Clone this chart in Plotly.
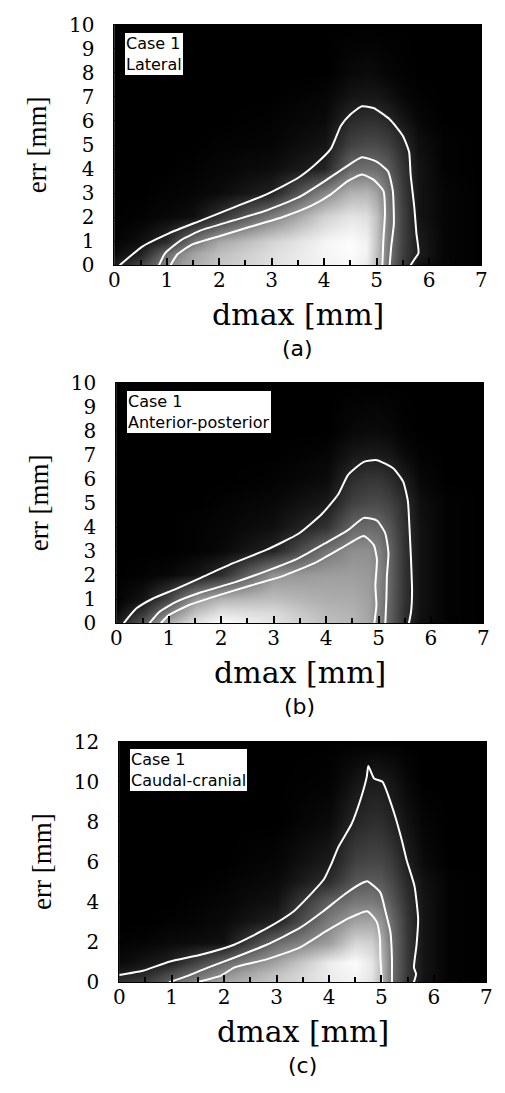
import plotly.graph_objects as go

# ---------------- data ----------------
X_GRID = [0, 0.5, 1, 1.5, 2, 3, 4, 4.5, 4.8, 5.0, 5.2, 5.5, 5.8, 6.3, 7]
Y_GRID_AB = [0, 0.5, 1, 2, 3, 4, 5, 6, 7, 8, 10]
Y_GRID_C = [0, 0.5, 1, 2, 3, 4, 5, 6, 8, 10, 12]

Z_A = [
    [0.11, 0.28, 0.52, 0.68, 0.78, 0.88, 0.95, 0.97, 0.92, 0.74, 0.46, 0.22, 0.07, 0.02, 0.0],
    [0.04, 0.13, 0.42, 0.64, 0.75, 0.87, 0.96, 0.99, 0.95, 0.76, 0.48, 0.25, 0.11, 0.02, 0.0],
    [0.01, 0.06, 0.17, 0.46, 0.66, 0.83, 0.96, 0.99, 0.95, 0.77, 0.49, 0.26, 0.11, 0.02, 0.0],
    [0.0, 0.01, 0.03, 0.06, 0.20, 0.50, 0.82, 0.90, 0.88, 0.76, 0.50, 0.26, 0.08, 0.02, 0.0],
    [0.0, 0.0, 0.01, 0.02, 0.04, 0.13, 0.53, 0.70, 0.71, 0.64, 0.46, 0.24, 0.08, 0.02, 0.0],
    [0.0, 0.0, 0.0, 0.01, 0.02, 0.05, 0.14, 0.42, 0.44, 0.43, 0.37, 0.21, 0.08, 0.01, 0.0],
    [0.0, 0.0, 0.0, 0.0, 0.01, 0.02, 0.08, 0.26, 0.29, 0.29, 0.26, 0.17, 0.06, 0.01, 0.0],
    [0.0, 0.0, 0.0, 0.0, 0.0, 0.01, 0.04, 0.17, 0.19, 0.19, 0.16, 0.09, 0.03, 0.0, 0.0],
    [0.0, 0.0, 0.0, 0.0, 0.0, 0.0, 0.02, 0.08, 0.09, 0.09, 0.07, 0.03, 0.01, 0.0, 0.0],
    [0.0, 0.0, 0.0, 0.0, 0.0, 0.0, 0.0, 0.03, 0.04, 0.035, 0.02, 0.01, 0.0, 0.0, 0.0],
    [0.0, 0.0, 0.0, 0.0, 0.0, 0.0, 0.0, 0.0, 0.0, 0.0, 0.0, 0.0, 0.0, 0.0, 0.0],
]
Z_B = [
    [0.10, 0.35, 0.70, 0.90, 1.00, 0.90, 0.75, 0.72, 0.66, 0.52, 0.38, 0.18, 0.06, 0.01, 0.0],
    [0.04, 0.20, 0.48, 0.75, 0.88, 0.85, 0.72, 0.70, 0.64, 0.52, 0.38, 0.19, 0.07, 0.01, 0.0],
    [0.01, 0.08, 0.28, 0.60, 0.72, 0.75, 0.68, 0.67, 0.63, 0.52, 0.39, 0.20, 0.07, 0.01, 0.0],
    [0.0, 0.01, 0.03, 0.08, 0.18, 0.58, 0.62, 0.62, 0.60, 0.53, 0.40, 0.20, 0.07, 0.01, 0.0],
    [0.0, 0.0, 0.0, 0.01, 0.03, 0.14, 0.46, 0.56, 0.56, 0.51, 0.39, 0.20, 0.07, 0.01, 0.0],
    [0.0, 0.0, 0.0, 0.01, 0.02, 0.06, 0.20, 0.40, 0.42, 0.41, 0.34, 0.19, 0.07, 0.01, 0.0],
    [0.0, 0.0, 0.0, 0.0, 0.01, 0.03, 0.10, 0.26, 0.29, 0.29, 0.26, 0.17, 0.06, 0.01, 0.0],
    [0.0, 0.0, 0.0, 0.0, 0.0, 0.01, 0.04, 0.18, 0.21, 0.21, 0.18, 0.11, 0.03, 0.0, 0.0],
    [0.0, 0.0, 0.0, 0.0, 0.0, 0.0, 0.02, 0.09, 0.105, 0.10, 0.09, 0.04, 0.01, 0.0, 0.0],
    [0.0, 0.0, 0.0, 0.0, 0.0, 0.0, 0.0, 0.03, 0.04, 0.04, 0.03, 0.01, 0.0, 0.0, 0.0],
    [0.0, 0.0, 0.0, 0.0, 0.0, 0.0, 0.0, 0.0, 0.0, 0.0, 0.0, 0.0, 0.0, 0.0, 0.0],
]
Z_C = [
    [0.20, 0.25, 0.40, 0.55, 0.65, 0.80, 0.92, 0.95, 0.89, 0.72, 0.42, 0.21, 0.07, 0.01, 0.0],
    [0.10, 0.15, 0.28, 0.42, 0.55, 0.75, 0.93, 0.97, 0.91, 0.73, 0.43, 0.22, 0.08, 0.01, 0.0],
    [0.04, 0.08, 0.13, 0.28, 0.41, 0.65, 0.93, 0.99, 0.91, 0.73, 0.43, 0.22, 0.08, 0.01, 0.0],
    [0.01, 0.02, 0.04, 0.05, 0.07, 0.42, 0.62, 0.84, 0.82, 0.68, 0.43, 0.22, 0.08, 0.01, 0.0],
    [0.0, 0.0, 0.01, 0.02, 0.04, 0.13, 0.50, 0.64, 0.65, 0.58, 0.41, 0.21, 0.08, 0.01, 0.0],
    [0.0, 0.0, 0.0, 0.01, 0.02, 0.07, 0.38, 0.47, 0.48, 0.45, 0.34, 0.19, 0.08, 0.01, 0.0],
    [0.0, 0.0, 0.0, 0.0, 0.01, 0.04, 0.18, 0.34, 0.36, 0.345, 0.28, 0.16, 0.07, 0.01, 0.0],
    [0.0, 0.0, 0.0, 0.0, 0.0, 0.02, 0.11, 0.26, 0.28, 0.275, 0.23, 0.12, 0.04, 0.0, 0.0],
    [0.0, 0.0, 0.0, 0.0, 0.0, 0.0, 0.04, 0.15, 0.18, 0.175, 0.14, 0.07, 0.02, 0.0, 0.0],
    [0.0, 0.0, 0.0, 0.0, 0.0, 0.0, 0.01, 0.08, 0.11, 0.105, 0.08, 0.03, 0.0, 0.0, 0.0],
    [0.0, 0.0, 0.0, 0.0, 0.0, 0.0, 0.0, 0.0, 0.0, 0.0, 0.0, 0.0, 0.0, 0.0, 0.0],
]

# contour lines (dmax, err)
A_OUTER_X = [0.1, 0.54, 1.04, 1.66, 2.28, 2.9, 3.5, 3.82, 4.13, 4.32, 4.5, 4.72, 4.94, 5.25, 5.5, 5.62, 5.65, 5.72, 5.76, 5.8, 5.72, 5.65]
A_OUTER_Y = [0.0, 0.79, 1.33, 1.87, 2.41, 2.95, 3.63, 4.17, 4.85, 5.8, 6.27, 6.61, 6.54, 6.07, 5.39, 4.72, 3.77, 2.41, 1.33, 0.51, 0.24, 0.0]
A_MID_X = [0.85, 0.97, 1.28, 1.66, 2.28, 2.9, 3.51, 4.01, 4.38, 4.72, 5.0, 5.22, 5.31, 5.33, 5.28, 5.25]
A_MID_Y = [0.0, 0.51, 1.06, 1.46, 1.87, 2.28, 2.82, 3.5, 4.04, 4.49, 4.31, 3.9, 3.09, 1.73, 0.79, 0.0]
A_IN_X = [1.07, 1.2, 1.47, 1.97, 2.59, 3.2, 3.76, 4.13, 4.45, 4.72, 4.94, 5.13, 5.16, 5.13, 5.11]
A_IN_Y = [0.0, 0.45, 0.85, 1.19, 1.6, 2.0, 2.48, 2.95, 3.5, 3.77, 3.56, 3.09, 2.14, 1.06, 0.0]

B_OUTER_X = [0.14, 0.38, 0.69, 1.13, 1.62, 2.24, 2.86, 3.48, 3.92, 4.23, 4.42, 4.72, 4.97, 5.28, 5.47, 5.56, 5.59, 5.62, 5.64, 5.62, 5.58]
B_OUTER_Y = [0.0, 0.61, 1.02, 1.42, 1.9, 2.51, 3.05, 3.73, 4.54, 5.35, 6.17, 6.71, 6.78, 6.44, 5.89, 5.08, 4.0, 2.64, 1.29, 0.47, 0.0]
B_MID_X = [0.63, 0.82, 1.13, 1.62, 2.24, 2.86, 3.48, 3.98, 4.41, 4.72, 4.97, 5.13, 5.19, 5.16, 5.15, 5.13]
B_MID_Y = [0.0, 0.47, 0.88, 1.29, 1.69, 2.17, 2.71, 3.32, 3.86, 4.38, 4.27, 3.73, 2.91, 1.96, 1.02, 0.0]
B_IN_X = [0.85, 1.0, 1.38, 1.93, 2.55, 3.17, 3.79, 4.29, 4.72, 4.91, 4.97, 4.94, 4.96, 4.92]
B_IN_Y = [0.0, 0.34, 0.75, 1.15, 1.56, 1.96, 2.51, 3.12, 3.63, 3.25, 2.64, 1.56, 0.75, 0.0]

C_OUTER_X = [0.0, 0.45, 0.95, 1.57, 2.19, 2.81, 3.31, 3.68, 3.9, 4.05, 4.18, 4.43, 4.61, 4.72, 4.75, 4.86, 5.02, 5.23, 5.39, 5.48, 5.63, 5.7, 5.67, 5.62, 5.66, 5.62]
C_OUTER_Y = [0.36, 0.57, 1.02, 1.38, 1.87, 2.68, 3.5, 4.47, 5.12, 5.93, 6.75, 7.89, 9.19, 10.24, 10.78, 10.16, 10.0, 8.54, 7.07, 6.1, 4.8, 3.17, 1.87, 0.73, 0.41, 0.0]
C_MID_X = [0.95, 1.32, 1.69, 2.19, 2.81, 3.43, 3.87, 4.3, 4.64, 4.73, 4.98, 5.08, 5.17, 5.2, 5.2]
C_MID_Y = [0.0, 0.33, 0.73, 1.22, 1.87, 2.68, 3.5, 4.39, 4.96, 5.04, 4.47, 3.5, 2.52, 1.22, 0.0]
C_IN_X = [1.48, 1.94, 2.19, 2.81, 3.43, 3.93, 4.36, 4.73, 4.91, 4.97, 4.98, 5.01]
C_IN_Y = [0.0, 0.33, 0.73, 1.14, 1.71, 2.52, 3.17, 3.54, 3.01, 2.2, 1.22, 0.0]

X_TICKS = [0, 1, 2, 3, 4, 5, 6, 7]
Y_TICKS_AB = [0, 1, 2, 3, 4, 5, 6, 7, 8, 9, 10]
Y_TICKS_C = [0, 2, 4, 6, 8, 10, 12]

CASE_LABELS = ["Lateral", "Anterior-posterior", "Caudal-cranial"]
PANEL_LABELS = ["(a)", "(b)", "(c)"]

# ---------------- layout helpers ----------------
W, H = 505, 1093


def px(x):
    return x / W


def py(y):
    return 1 - y / H


# plot boxes in pixels: (left, top, right, bottom)
BOXES = [(111, 13, 487, 259), (113, 379, 489, 625), (116, 746, 492, 992)]

panels = [
    (Y_GRID_AB, Z_A, [(A_OUTER_X, A_OUTER_Y), (A_MID_X, A_MID_Y), (A_IN_X, A_IN_Y)], [0, 10], Y_TICKS_AB),
    (Y_GRID_AB, Z_B, [(B_OUTER_X, B_OUTER_Y), (B_MID_X, B_MID_Y), (B_IN_X, B_IN_Y)], [0, 10], Y_TICKS_AB),
    (Y_GRID_C, Z_C, [(C_OUTER_X, C_OUTER_Y), (C_MID_X, C_MID_Y), (C_IN_X, C_IN_Y)], [0, 12], Y_TICKS_C),
]

fig = go.Figure()
layout = dict(
    width=W, height=H, margin=dict(l=0, r=0, t=0, b=0),
    paper_bgcolor="white", plot_bgcolor="black", showlegend=False,
    annotations=[],
)

SERIF_TICK = dict(family="DejaVu Serif", size=20, color="black")

for i, (ygrid, z, contours, yrange, yticks) in enumerate(panels):
    n = "" if i == 0 else str(i + 1)
    xa, ya = "x" + n, "y" + n
    fig.add_trace(go.Heatmap(
        x=X_GRID, y=ygrid, z=z, zmin=0, zmax=1, zsmooth="best",
        colorscale=[[0, "black"], [1, "white"]], showscale=False,
        xaxis=xa, yaxis=ya, hoverinfo="skip",
    ))
    for cx, cy in contours:
        fig.add_trace(go.Scatter(
            x=cx, y=cy, mode="lines",
            line=dict(color="white", width=2, shape="spline", smoothing=0.5),
            xaxis=xa, yaxis=ya, hoverinfo="skip",
        ))
    l, t, r, b = BOXES[i]
    layout["xaxis" + n] = dict(
        domain=[px(l), px(r)], range=[0, 7], anchor=ya,
        tickvals=X_TICKS, ticks="inside", ticklen=7, tickwidth=2, tickcolor="black",
        minor=dict(dtick=0.5, ticks="inside", ticklen=5, tickwidth=2, tickcolor="black"),
        showgrid=False, zeroline=False, showline=True, linecolor="black", linewidth=1,
        mirror=True, tickfont=SERIF_TICK, ticklabelstandoff=-3,
    )
    layout["yaxis" + n] = dict(
        domain=[py(b), py(t)], range=yrange, anchor=xa,
        tickvals=yticks, ticks="inside", ticklen=6, tickcolor="black",
        showgrid=False, zeroline=False, showline=True, linecolor="black", linewidth=1,
        mirror=True, tickfont=SERIF_TICK, ticklabelstandoff=15,
    )
    cx_mid = (l + r) / 2
    # x-axis title
    layout["annotations"].append(dict(
        text="dmax [mm]", x=px(cx_mid), y=py(b + 50), xref="paper", yref="paper",
        showarrow=False, xanchor="center", yanchor="middle",
        font=dict(family="DejaVu Serif", size=30, color="black"),
    ))
    # y-axis title
    layout["annotations"].append(dict(
        text="err [mm]", x=px(l - 79), y=py((t + b) / 2), xref="paper", yref="paper",
        showarrow=False, xanchor="center", yanchor="middle", textangle=-90,
        font=dict(family="Liberation Serif", size=27, color="black"),
    ))
    # panel label
    layout["annotations"].append(dict(
        text=PANEL_LABELS[i], x=px(cx_mid), y=py(b + 85), xref="paper", yref="paper",
        showarrow=False, xanchor="center", yanchor="middle",
        font=dict(family="DejaVu Sans", size=22, color="black"),
    ))
    # legend box
    layout["annotations"].append(dict(
        text="Case 1<br>" + CASE_LABELS[i], align="left",
        x=px(l + 10), y=py(t + 7), xref="paper", yref="paper",
        showarrow=False, xanchor="left", yanchor="top",
        bgcolor="white", bordercolor="black", borderwidth=1, borderpad=1,
        font=dict(family="DejaVu Sans", size=16, color="black"),
    ))

fig.update_layout(**layout)
fig.write_html("out.html")
